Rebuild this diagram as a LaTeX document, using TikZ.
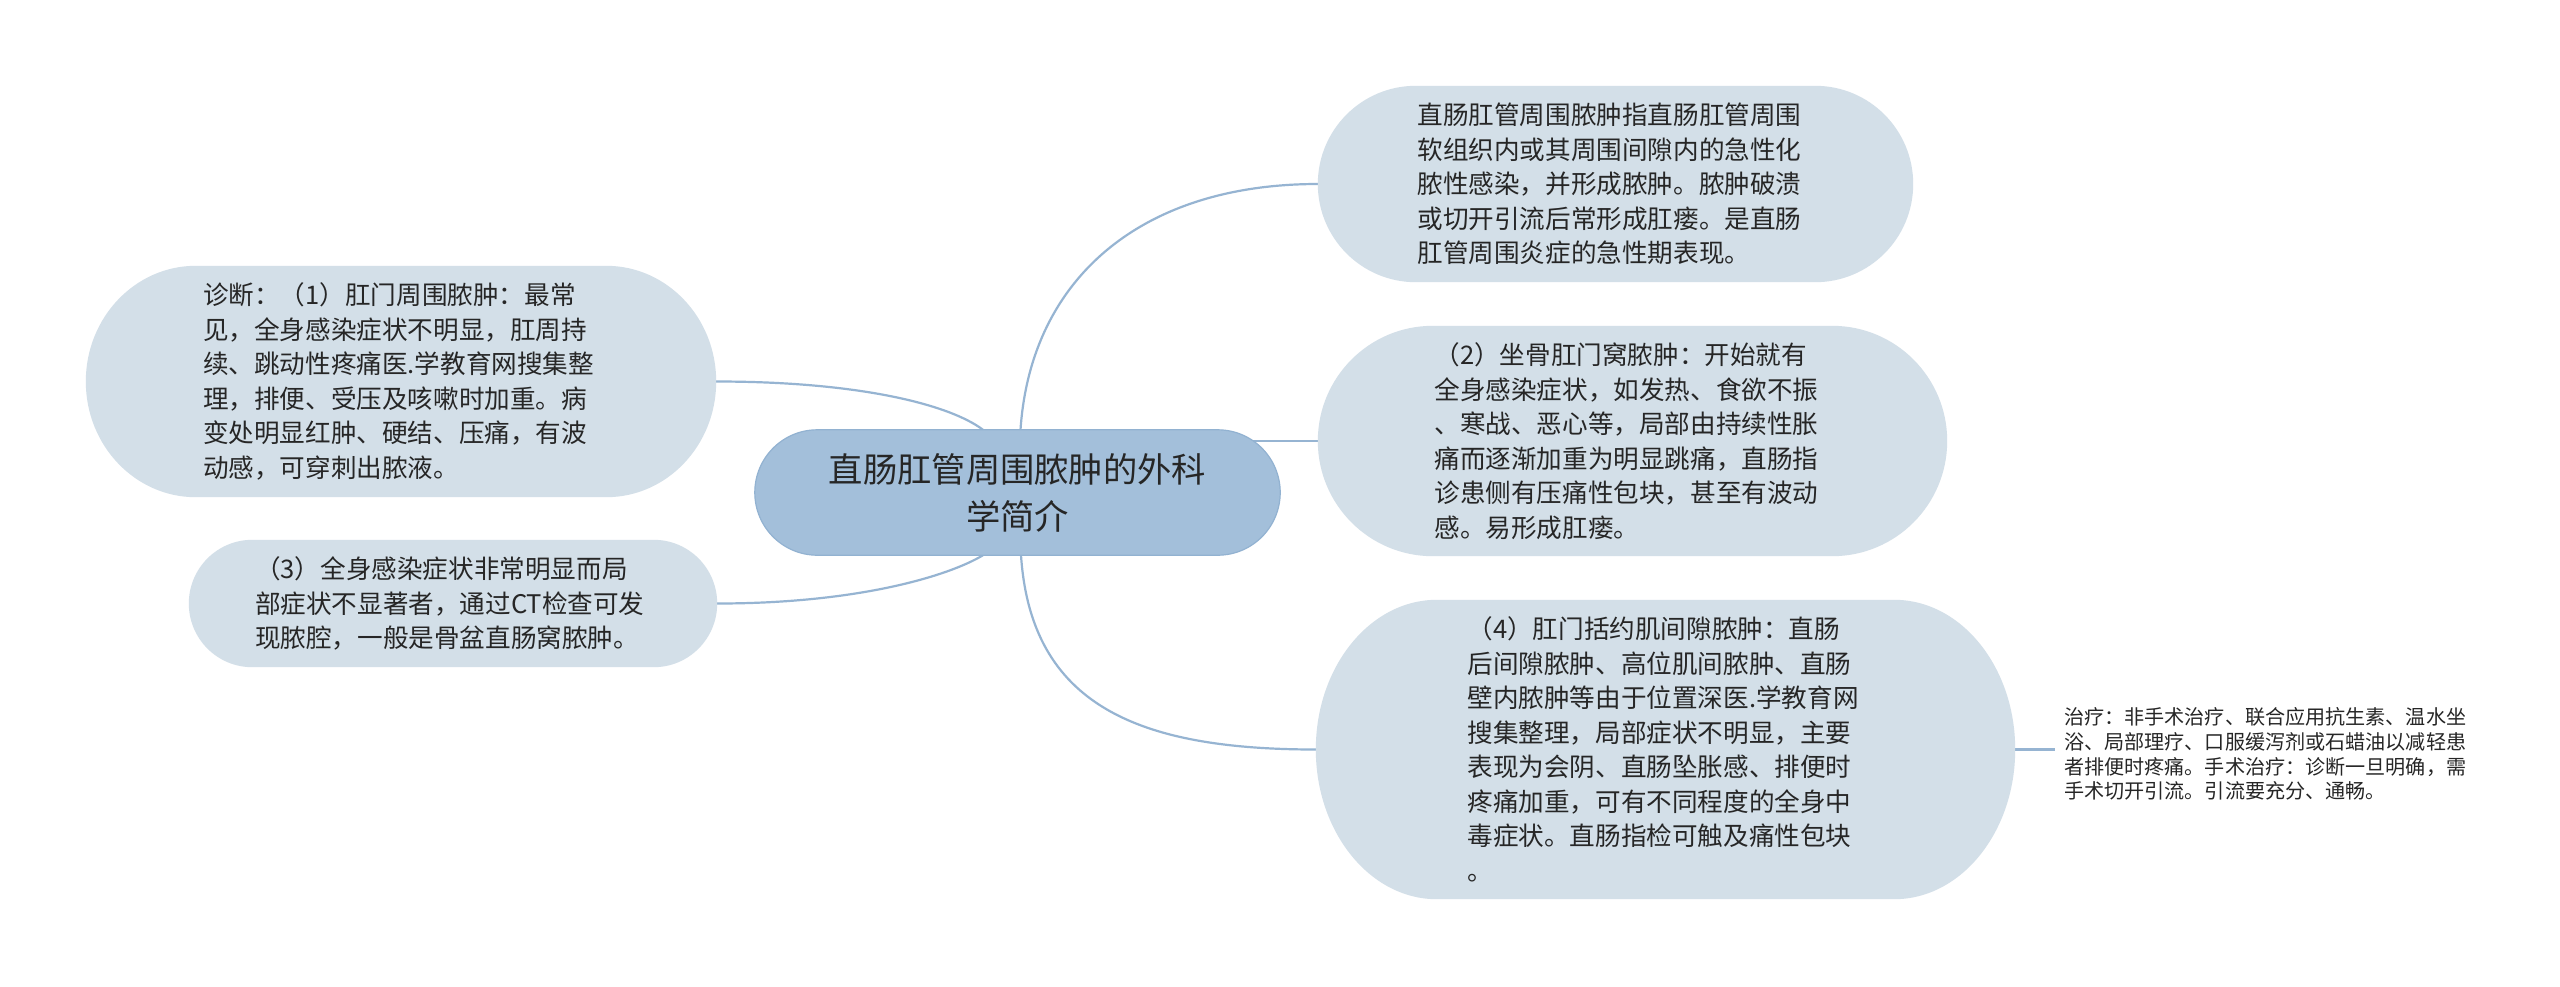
\documentclass[tikz,border=0pt]{standalone}
\usepackage{fontspec}
\setmainfont{Noto Sans CJK SC}
\usetikzlibrary{calc}
\pgfdeclarelayer{bg}
\pgfdeclarelayer{lines}
\pgfdeclarelayer{shapes}
\pgfsetlayers{bg,lines,shapes,main}
\definecolor{rootfill}{HTML}{A3BFDA}
\definecolor{rootline}{HTML}{92B2D1}
\definecolor{leaffill}{HTML}{D3DFE8}
\definecolor{linkcol}{HTML}{96B4D2}
\definecolor{txt}{HTML}{262626}
\newcommand\blobfill[3]{%
  \begin{pgfonlayer}{shapes}
  \path[#3] let \p1=(#1.north west), \p2=(#1.south east), \n1={(\y1-\y2)/2} in
    (\x1+#2pt,\y1) -- (\x2-#2pt,\y1)
    arc[start angle=90,end angle=-90,x radius=#2pt,y radius=\n1*1pt]
    -- (\x1+#2pt,\y2)
    arc[start angle=270,end angle=90,x radius=#2pt,y radius=\n1*1pt] -- cycle;
  \end{pgfonlayer}}
\tikzset{
  leaf/.style={rectangle, inner sep=0pt, text=txt,
    font=\fontsize{25.6pt}{34.5pt}\selectfont, align=left, text width=396pt},
  root/.style={rectangle, inner sep=0pt, text=txt,
    font=\fontsize{34.3pt}{47pt}\selectfont, align=center},
  treat/.style={rectangle, inner xsep=9pt, inner ysep=0pt, text=txt,
    font=\fontsize{20.1pt}{24.7pt}\selectfont, align=left},
  conn/.style={draw=linkcol, line width=2.2pt},
  leafshape/.style={fill=leaffill},
  rootshape/.style={fill=rootfill, draw=rootline, line width=1.2pt}
}
\begin{document}
\begin{tikzpicture}[x=1pt,y=-1pt]
\useasboundingbox (0,0) rectangle (2560,986);
\begin{pgfonlayer}{bg}
\fill[white] (0,0) rectangle (2560,986);
\end{pgfonlayer}

% nodes
\node[root, minimum width=525pt, minimum height=125pt] (C) at (1017.5,492.5)
  {直肠肛管周围脓肿的外科\\学简介};

\node[leaf, minimum width=595pt, minimum height=196pt] (n1) at (1615.5,184)
  {直肠肛管周围脓肿指直肠肛管周围\\
   软组织内或其周围间隙内的急性化\\
   脓性感染，并形成脓肿。脓肿破溃\\
   或切开引流后常形成肛瘘。是直肠\\
   肛管周围炎症的急性期表现。};

\node[leaf, minimum width=629pt, minimum height=230pt] (n2) at (1632.5,441)
  {（2）坐骨肛门窝脓肿：开始就有\\
   全身感染症状，如发热、食欲不振\\
   、寒战、恶心等，局部由持续性胀\\
   痛而逐渐加重为明显跳痛，直肠指\\
   诊患侧有压痛性包块，甚至有波动\\
   感。易形成肛瘘。};

\node[leaf, minimum width=699pt, minimum height=299pt] (n4) at (1665.5,749.5)
  {（4）肛门括约肌间隙脓肿：直肠\\
   后间隙脓肿、高位肌间脓肿、直肠\\
   壁内脓肿等由于位置深医.学教育网\\
   搜集整理，局部症状不明显，主要\\
   表现为会阴、直肠坠胀感、排便时\\
   疼痛加重，可有不同程度的全身中\\
   毒症状。直肠指检可触及痛性包块\\
   。};

\node[leaf, minimum width=630pt, minimum height=231pt] (nA) at (401,381.5)
  {诊断：（1）肛门周围脓肿：最常\\
   见，全身感染症状不明显，肛周持\\
   续、跳动性疼痛医.学教育网搜集整\\
   理，排便、受压及咳嗽时加重。病\\
   变处明显红肿、硬结、压痛，有波\\
   动感，可穿刺出脓液。};

\node[leaf, minimum width=528pt, minimum height=127pt] (nB) at (453,603.5)
  {（3）全身感染症状非常明显而局\\
   部症状不显著者，通过CT检查可发\\
   现脓腔，一般是骨盆直肠窝脓肿。};

\node[treat, anchor=west] (tr) at (2055,754)
  {治疗：非手术治疗、联合应用抗生素、温水坐\\
   浴、局部理疗、口服缓泻剂或石蜡油以减轻患\\
   者排便时疼痛。手术治疗：诊断一旦明确，需\\
   手术切开引流。引流要充分、通畅。};

% shapes
\blobfill{C}{62.5}{rootshape}
\blobfill{n1}{98}{leafshape}
\blobfill{n2}{115}{leafshape}
\blobfill{n4}{121}{leafshape}
\blobfill{nA}{110}{leafshape}
\blobfill{nB}{63.5}{leafshape}

% connectors
\begin{pgfonlayer}{lines}
\draw[conn] ([xshift=3pt]C.north) .. controls +(10,-150) and +(-178,0) .. (n1.west);
\draw[conn] (C.center |- n2.west) -- (n2.west);
\draw[conn] ([xshift=3.5pt]C.south) .. controls +(10,150) and +(-178,0) .. (n4.west);
\draw[conn] ([xshift=-34.5pt]C.north) .. controls +(-33,-25) and +(144,0) .. (nA.east);
\draw[conn] ([xshift=-34.5pt]C.south) .. controls +(-33,20) and +(143,0) .. (nB.east);
\draw[conn] (n4.east) -- (n4.east -| tr.west);
\end{pgfonlayer}
\end{tikzpicture}
\end{document}
